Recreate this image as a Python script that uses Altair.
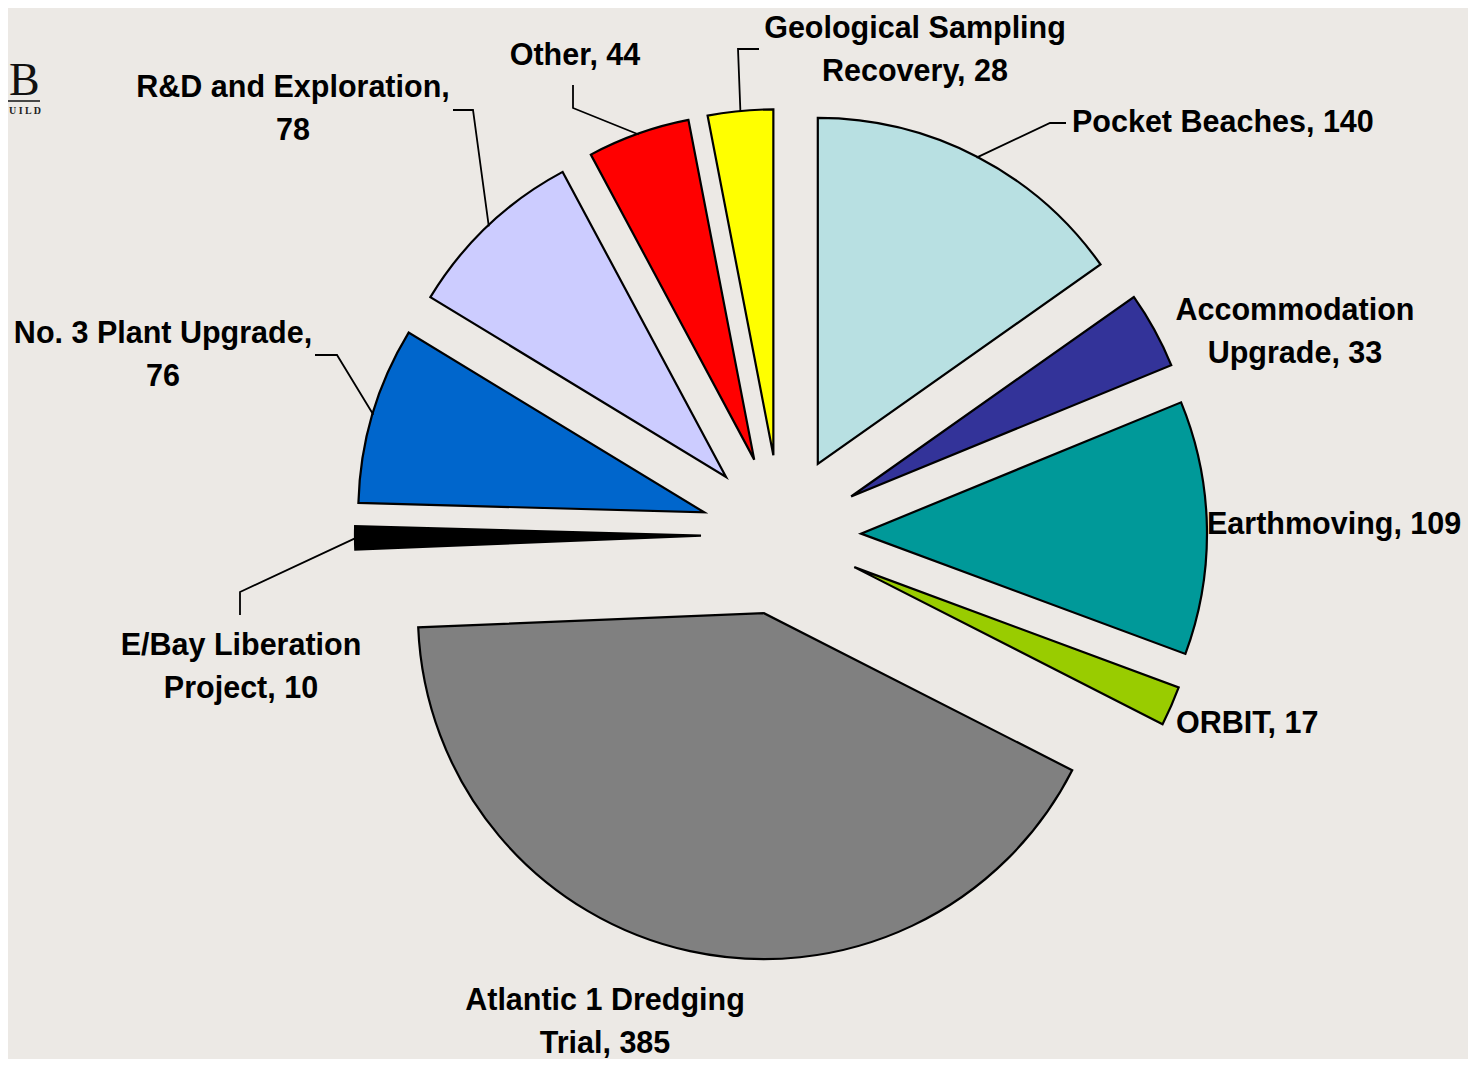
import math
import altair as alt
import pandas as pd

# ---------------- data ----------------
categories = [
    "Pocket Beaches", "Accommodation Upgrade", "Earthmoving", "ORBIT",
    "Atlantic 1 Dredging Trial", "E/Bay Liberation Project", "No. 3 Plant Upgrade",
    "R&D and Exploration", "Other", "Geological Sampling Recovery",
]
values = [140, 33, 109, 17, 385, 10, 76, 78, 44, 28]
# words on the first label line (0 = single line)
label_break = [0, 1, 0, 0, 3, 2, 4, 3, 0, 2]

# ---------------- style / layout ----------------
colors = ["#b8e0e2", "#333399", "#009999", "#99cc00", "#808080",
          "#000000", "#0066cc", "#ccccff", "#ff0000", "#ffff00"]
BG = "#ece9e5"
W, H = 1460, 1051
CX, CY = 773, 527      # pie centre (px)
R = 346                # radius
D = 80                 # explosion distance
FONT = "Liberation Sans"
FS = 30.5
LH = 43

# label anchors (first line centre) and alignment (annotation layout)
label_layout = {
    "Pocket Beaches": (1064, 115, "left"),
    "Accommodation Upgrade": (1287, 303, "center"),
    "Earthmoving": (1199, 517, "left"),
    "ORBIT": (1168, 716, "left"),
    "Atlantic 1 Dredging Trial": (597, 993, "center"),
    "E/Bay Liberation Project": (233, 638, "center"),
    "No. 3 Plant Upgrade": (155, 326, "center"),
    "R&D and Exploration": (285, 80, "center"),
    "Other": (567, 48, "center"),
    "Geological Sampling Recovery": (907, 21, "center"),
}
# leader line elbows / ends (annotation layout)
leader_layout = {
    "Pocket Beaches": [(1042, 115), (1058, 115)],
    "Geological Sampling Recovery": [(730, 41), (751, 41)],
    "Other": [(565, 100), (565, 77)],
    "R&D and Exploration": [(465, 102), (445, 102)],
    "No. 3 Plant Upgrade": [(329, 347), (307, 347)],
    "E/Bay Liberation Project": [(232, 584), (232, 607)],
}

# ---------------- slices ----------------
slices = pd.DataFrame({"category": categories, "value": values, "order": range(len(values))})

arcs = (
    alt.Chart(slices)
    .transform_joinaggregate(total="sum(value)")
    .transform_window(cum="sum(value)", sort=[alt.SortField("order", order="ascending")], frame=[None, 0])
    .transform_calculate(
        t1="2*PI*datum.cum/datum.total",
        t0="2*PI*(datum.cum-datum.value)/datum.total",
    )
    .transform_calculate(mid="(datum.t0+datum.t1)/2")
    .transform_calculate(
        px=f"{CX}+{D}*sin(datum.mid)",
        py=f"{CY}-{D}*cos(datum.mid)",
    )
    .mark_arc(outerRadius=R, stroke="black", strokeWidth=2.2, strokeJoin="miter")
    .encode(
        theta=alt.Theta("t0:Q", scale=None, stack=False),
        theta2=alt.Theta2("t1"),
        x=alt.X("px:Q", scale=None, axis=None),
        y=alt.Y("py:Q", scale=None, axis=None),
        color=alt.Color("category:N", scale=alt.Scale(domain=categories, range=colors), legend=None),
        order=alt.Order("order:Q"),
    )
)

# ---------------- leader lines ----------------
total = sum(values)
cum = 0
mids = {}
for c, v in zip(categories, values):
    mids[c] = 2 * math.pi * (cum + v / 2) / total
    cum += v

rows = []
for c, pts in leader_layout.items():
    a = mids[c]
    sx = CX + (D + R - 1) * math.sin(a)
    sy = CY - (D + R - 1) * math.cos(a)
    rows.append({"category": c, "seq": 0, "x": sx, "y": sy})
    for i, (x, y) in enumerate(pts, start=1):
        rows.append({"category": c, "seq": i, "x": x, "y": y})
leaders_df = pd.DataFrame(rows)

leaders = alt.Chart(leaders_df).mark_line(color="black", strokeWidth=1.8).encode(
    x=alt.X("x:Q", scale=None, axis=None),
    y=alt.Y("y:Q", scale=None, axis=None),
    detail="category:N",
    order="seq:Q",
)

# ---------------- labels ----------------
lab_rows = []
for c, v, b in zip(categories, values, label_break):
    words = f"{c}, {v}".split(" ")
    lines = [" ".join(words)] if b == 0 else [" ".join(words[:b]), " ".join(words[b:])]
    x, y, al = label_layout[c]
    lab_rows.append({"category": c, "label": lines, "x": x, "y": y, "align": al})
labels_df = pd.DataFrame(lab_rows)

label_layers = []
for al in ["left", "center"]:
    label_layers.append(
        alt.Chart(labels_df[labels_df["align"] == al])
        .mark_text(font=FONT, fontSize=FS, fontWeight="bold", color="black",
                   align=al, baseline="middle", lineHeight=LH)
        .encode(x=alt.X("x:Q", scale=None, axis=None), y=alt.Y("y:Q", scale=None, axis=None),
                text="label:N")
    )

# ---------------- logo at the top-left ----------------
logo_df = pd.DataFrame({"t": ["B"], "x": [1], "y": [87]})
logo = alt.Chart(logo_df).mark_text(font="Liberation Serif", fontSize=46, align="left",
                                     baseline="alphabetic", color="#111111").encode(
    x=alt.X("x:Q", scale=None, axis=None), y=alt.Y("y:Q", scale=None, axis=None), text="t:N")
logo_sub_df = pd.DataFrame({"t": ["U I L D"], "x": [1], "y": [106]})
logo_sub = alt.Chart(logo_sub_df).mark_text(font="Liberation Serif", fontSize=10, fontWeight="bold",
                                             align="left", baseline="alphabetic", color="#222222").encode(
    x=alt.X("x:Q", scale=None, axis=None), y=alt.Y("y:Q", scale=None, axis=None), text="t:N")
rule_df = pd.DataFrame({"x": [0], "x2": [32], "y": [93]})
logo_rule = alt.Chart(rule_df).mark_rule(color="#111111", strokeWidth=1.5).encode(
    x=alt.X("x:Q", scale=None, axis=None), x2="x2:Q", y=alt.Y("y:Q", scale=None, axis=None))

chart = (
    alt.layer(arcs, leaders, *label_layers, logo, logo_sub, logo_rule)
    .properties(width=W, height=H, background=BG, padding=0,
                autosize=alt.AutoSizeParams(type="none"))
    .configure_view(stroke=None)
)

chart.save("out.html", embed_options={"renderer": "svg", "actions": False})
